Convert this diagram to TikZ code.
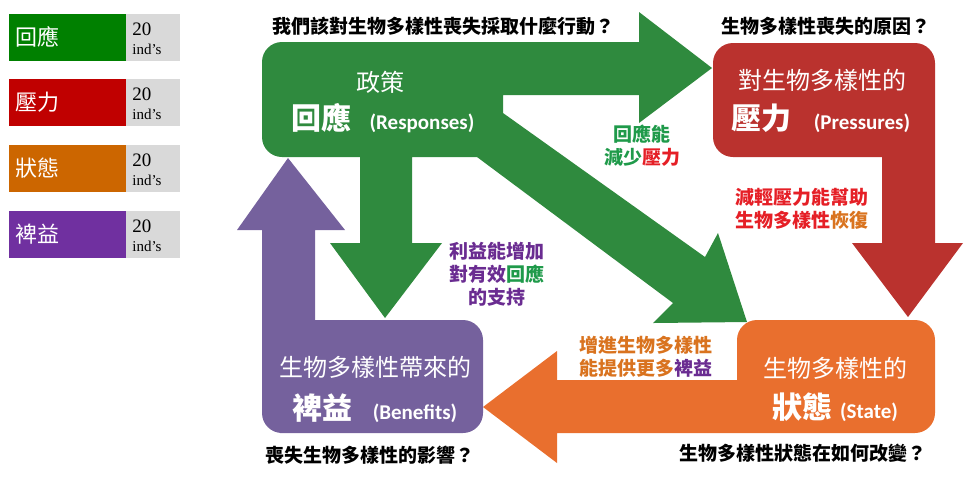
\documentclass[tikz,border=0pt]{standalone}
\usepackage{fontspec}
\usepackage{xcolor}
\usepackage{tikz}
\newfontfamily\cjk{Noto Sans CJK TC}
\newfontfamily\latsans{Carlito}
\newfontfamily\legserif{Liberation Serif}
\definecolor{LegGreen}{HTML}{008000}
\definecolor{LegRed}{HTML}{C00000}
\definecolor{LegOrange}{HTML}{CC6600}
\definecolor{LegPurple}{HTML}{7030A0}
\definecolor{LegGray}{HTML}{D9D9D9}
\definecolor{RespGreen}{HTML}{2F8A3E}
\definecolor{PressRed}{HTML}{BA322E}
\definecolor{StateOrange}{HTML}{E96F2E}
\definecolor{BenPurple}{HTML}{75619D}
\definecolor{NoteGreen}{HTML}{1F9A4A}
\definecolor{NoteRed}{HTML}{E51F26}
\definecolor{NoteOrange}{HTML}{D9731F}
\definecolor{NotePurple}{HTML}{6A2C91}
\newcommand\bigcjk[1]{{\cjk\bfseries\fontsize{15}{18}\selectfont #1}}
\newcommand\engtag[1]{{\latsans\bfseries\fontsize{10.5}{12}\selectfont #1}}
\tikzset{
  quest/.style={inner sep=0pt,font=\cjk\bfseries\fontsize{9.5}{11.5}\selectfont},
  note/.style={inner sep=0pt,align=center,font=\cjk\bfseries\fontsize{9.5}{11.5}\selectfont},
  boxsmall/.style={inner sep=0pt,text=white,font=\cjk\fontsize{12}{14}\selectfont},
  boxbig/.style={inner sep=0pt,text=white},
  legtext/.style={inner sep=0pt,text=white,font=\cjk\fontsize{11}{13}\selectfont},
  legnum/.style={inner sep=0pt,anchor=west,font=\legserif\fontsize{9.5}{11}\selectfont}
}

\begin{document}
\begin{tikzpicture}[x=0.5pt,y=-0.5pt]
  \useasboundingbox (0,0) rectangle (980,479);
  % legend
  \foreach \y/\c/\t [count=\i] in {14/LegGreen/回應,79/LegRed/壓力,145/LegOrange/狀態,211/LegPurple/裨益} {
    \fill[\c] (9,\y) rectangle (126,\y+47);
    \fill[LegGray] (126,\y) rectangle (180,\y+47);
    \node[legtext] (leg\i) at (38,\y+23) {\t};
    \node[legnum] (num\i) at (132,\y+15) {20};
    \node[legnum,font=\legserif\fontsize{7.5}{9}\selectfont] (ind\i) at (132,\y+35) {ind’s};
  }
  % responses
  \fill[RespGreen] (262,100) [rounded corners=10pt] -- (262,42) -- (500,42) [sharp corners]
    -- (639,42) -- (639,12) -- (712,68) -- (639,123) -- (639,95) -- (503,95) -- (503,113)
    -- (705,257) -- (718,233) -- (747,322) -- (653,323) -- (673,303) -- (477,157)
    -- (412,157) -- (412,243) -- (442,243) -- (385,318) -- (330,243) -- (360,243)
    -- (360,157) -- (330,157) [rounded corners=10pt] -- (262,157) -- cycle;
  % pressures
  \fill[PressRed] (713,100) [rounded corners=10pt] -- (713,43) -- (935,43) -- (935,200) [sharp corners]
    -- (935,243) -- (963,243) -- (908,317) -- (852,243) -- (882,243) -- (882,157)
    -- (800,157) [rounded corners=10pt] -- (713,157) -- cycle;
  % state
  \fill[StateOrange] (737,350) [rounded corners=10pt] -- (737,320) -- (935,320) -- (935,433) -- (700,433) [sharp corners]
    -- (557,433) -- (557,463) -- (483,407) -- (557,351) -- (557,380) -- (737,380) -- cycle;
  % benefits
  \fill[BenPurple] (300,433) [rounded corners=10pt] -- (262,433) -- (262,300) [sharp corners]
    -- (262,230) -- (237,230) -- (288,158) -- (345,230) -- (315,230) -- (315,320)
    -- (400,320) [rounded corners=10pt] -- (483,320) -- (483,433) -- cycle;

  \node[boxsmall] (resptop) at (380,82) {政策};
  \node[boxbig] (respmain) at (383,118) {\bigcjk{回應}\hspace{9pt}\engtag{(Responses)}};
  \node[boxsmall] (presstop) at (822,80) {對生物多樣性的};
  \node[boxbig] (pressmain) at (821,118) {\bigcjk{壓力}\hspace{11pt}\engtag{(Pressures)}};
  \node[boxsmall] (statetop) at (835,368) {生物多樣性的};
  \node[boxbig] (statemain) at (835,407) {\bigcjk{狀態}\hspace{4pt}\engtag{(State)}};
  \node[boxsmall] (bentop) at (375,367) {生物多樣性帶來的};
  \node[boxbig] (benmain) at (375,408) {\bigcjk{裨益}\hspace{10pt}\engtag{(Benefits)}};

  \node[quest] (qresp) at (443,26) {我們該對生物多樣性喪失採取什麼行動？};
  \node[quest] (qpress) at (826,26) {生物多樣性喪失的原因？};
  \node[quest] (qben) at (370,455) {喪失生物多樣性的影響？};
  \node[quest] (qstate) at (803,453) {生物多樣性狀態在如何改變？};

  \node[note,text=NoteGreen] (cutnote) at (642,146) {回應能\\減少{\color{NoteRed}壓力}};
  \node[note,text=NoteRed] (easenote) at (802,209) {減輕壓力能幫助\\生物多樣性{\color{NoteOrange}恢復}};
  \node[note,text=NotePurple] (supnote) at (497,274) {利益能增加\\對有效{\color{NoteGreen}回應}\\的支持};
  \node[note,text=NoteOrange] (gainnote) at (646,357) {增進生物多樣性\\能提供更多{\color{NotePurple}裨益}};
\end{tikzpicture}
\end{document}
